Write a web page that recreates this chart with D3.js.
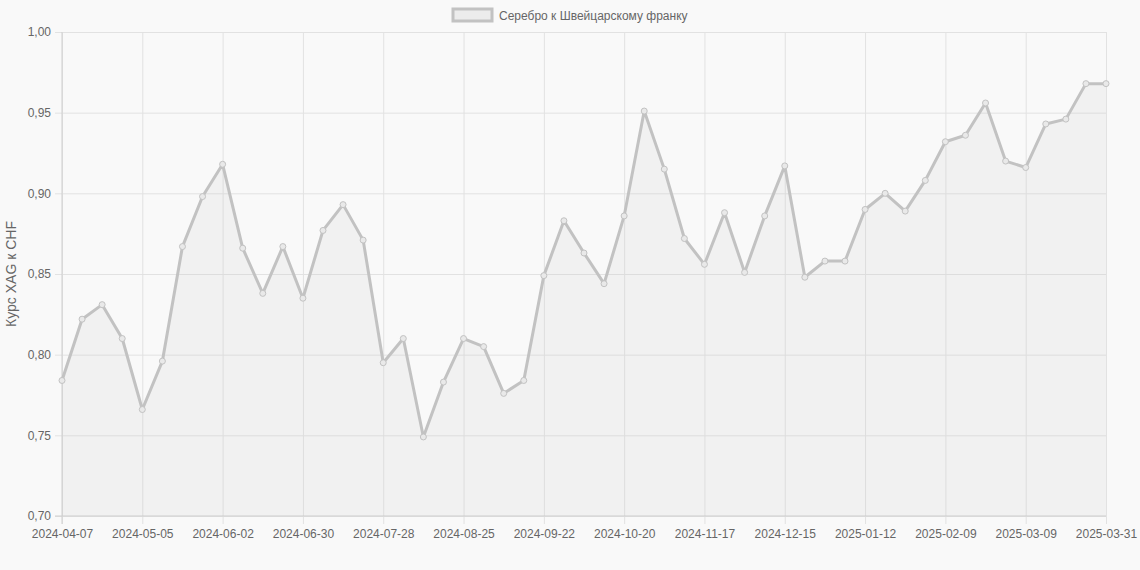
<!DOCTYPE html>
<html>
<head>
<meta charset="utf-8">
<script src="https://cdn.jsdelivr.net/npm/d3@7"></script>
<style>
  html, body { margin: 0; padding: 0; background: #f9f9f9; }
  svg { display: block; font-family: "Liberation Sans", Arial, Helvetica, sans-serif; }
</style>
</head>
<body>
<svg id="chart" width="1140" height="570"></svg>
<script>
const dates = [
  "2024-04-07","2024-04-14","2024-04-21","2024-04-28","2024-05-05","2024-05-12","2024-05-19","2024-05-26",
  "2024-06-02","2024-06-09","2024-06-16","2024-06-23","2024-06-30","2024-07-07","2024-07-14","2024-07-21",
  "2024-07-28","2024-08-04","2024-08-11","2024-08-18","2024-08-25","2024-09-01","2024-09-08","2024-09-15",
  "2024-09-22","2024-09-29","2024-10-06","2024-10-13","2024-10-20","2024-10-27","2024-11-03","2024-11-10",
  "2024-11-17","2024-11-24","2024-12-01","2024-12-08","2024-12-15","2024-12-22","2024-12-29","2025-01-05",
  "2025-01-12","2025-01-19","2025-01-26","2025-02-02","2025-02-09","2025-02-16","2025-02-23","2025-03-02",
  "2025-03-09","2025-03-16","2025-03-23","2025-03-30","2025-03-31"
];
const values = [
  0.784, 0.822, 0.831, 0.810, 0.766, 0.796, 0.867, 0.898,
  0.918, 0.866, 0.838, 0.867, 0.835, 0.877, 0.893, 0.871,
  0.795, 0.810, 0.749, 0.783, 0.810, 0.805, 0.776, 0.784,
  0.849, 0.883, 0.863, 0.844, 0.886, 0.951, 0.915, 0.872,
  0.856, 0.888, 0.851, 0.886, 0.917, 0.848, 0.858, 0.858,
  0.890, 0.900, 0.889, 0.908, 0.932, 0.936, 0.956, 0.920,
  0.916, 0.943, 0.946, 0.968, 0.968
];
const yTicks = [0.70, 0.75, 0.80, 0.85, 0.90, 0.95, 1.00];
const seriesName = "Серебро к Швейцарскому франку";
const yTitle = "Курс XAG к CHF";

(function () {
const svg = d3.select("#chart");
const pl = 62, pr = 1106, pt = 32, pb = 516;
const lineColor = "#c2c2c2";
const gridColor = "#e2e2e2";
const textColor = "#666";

const x = d3.scalePoint().domain(dates).range([pl, pr]);
const y = d3.scaleLinear().domain([0.70, 1.00]).range([pb, pt]);
const fmt = v => d3.format(".2f")(v).replace(".", ",");

const shownDates = dates.filter((d, i) => i % 4 === 0);

// Horizontal grid
const yAxis = d3.axisLeft(y).tickValues(yTicks).tickFormat(fmt)
  .tickSizeOuter(0).tickPadding(4);
const gy = svg.append("g").attr("transform", `translate(${pl - 7},0)`).call(yAxis);
gy.select(".domain").remove();
gy.selectAll(".tick line").attr("stroke", gridColor).attr("x1", 0).attr("x2", pr - pl + 7);
gy.selectAll(".tick text").attr("fill", textColor).attr("font-size", 12).attr("x", -4);

// Vertical grid
const xAxis = d3.axisBottom(x).tickValues(shownDates).tickSizeOuter(0).tickPadding(0);
const gx = svg.append("g").attr("transform", `translate(0,${pb + 8})`).call(xAxis);
gx.select(".domain").remove();
gx.selectAll(".tick line").attr("stroke", gridColor).attr("y1", 0).attr("y2", -(pb - pt) - 8);
gx.selectAll(".tick text").attr("fill", textColor).attr("font-size", 12).attr("y", 5);

// Axis lines
svg.append("line").attr("x1", pl).attr("x2", pl).attr("y1", pt).attr("y2", pb + 8)
  .attr("stroke", "#cfcfcf");
svg.append("line").attr("x1", pl - 7).attr("x2", pr).attr("y1", pb).attr("y2", pb)
  .attr("stroke", "#cfcfcf");

// Area
const area = d3.area().x((d, i) => x(dates[i])).y0(pb).y1(d => y(d));
svg.append("path").datum(values).attr("d", area).attr("fill", "rgba(190,190,190,0.12)");

// Line
const line = d3.line().x((d, i) => x(dates[i])).y(d => y(d));
svg.append("path").datum(values).attr("d", line)
  .attr("fill", "none").attr("stroke", lineColor).attr("stroke-width", 3)
  .attr("stroke-linejoin", "round");

// Points
svg.append("g").selectAll("circle").data(values).join("circle")
  .attr("cx", (d, i) => x(dates[i])).attr("cy", d => y(d)).attr("r", 3)
  .attr("fill", "#e9e9e9").attr("stroke", lineColor).attr("stroke-width", 1);

// Y title
svg.append("text").attr("transform", `translate(16,${(pt + pb) / 2}) rotate(-90)`)
  .attr("text-anchor", "middle").attr("fill", textColor).attr("font-size", 14)
  .text(yTitle);

// Legend
const lg = svg.append("g");
lg.append("rect").attr("x", 453).attr("y", 9).attr("width", 39).attr("height", 12)
  .attr("fill", "#ececec").attr("stroke", lineColor).attr("stroke-width", 3);
lg.append("text").attr("x", 499).attr("y", 19.5).attr("fill", textColor).attr("font-size", 12)
  .text(seriesName);
})();
</script>
</body>
</html>
